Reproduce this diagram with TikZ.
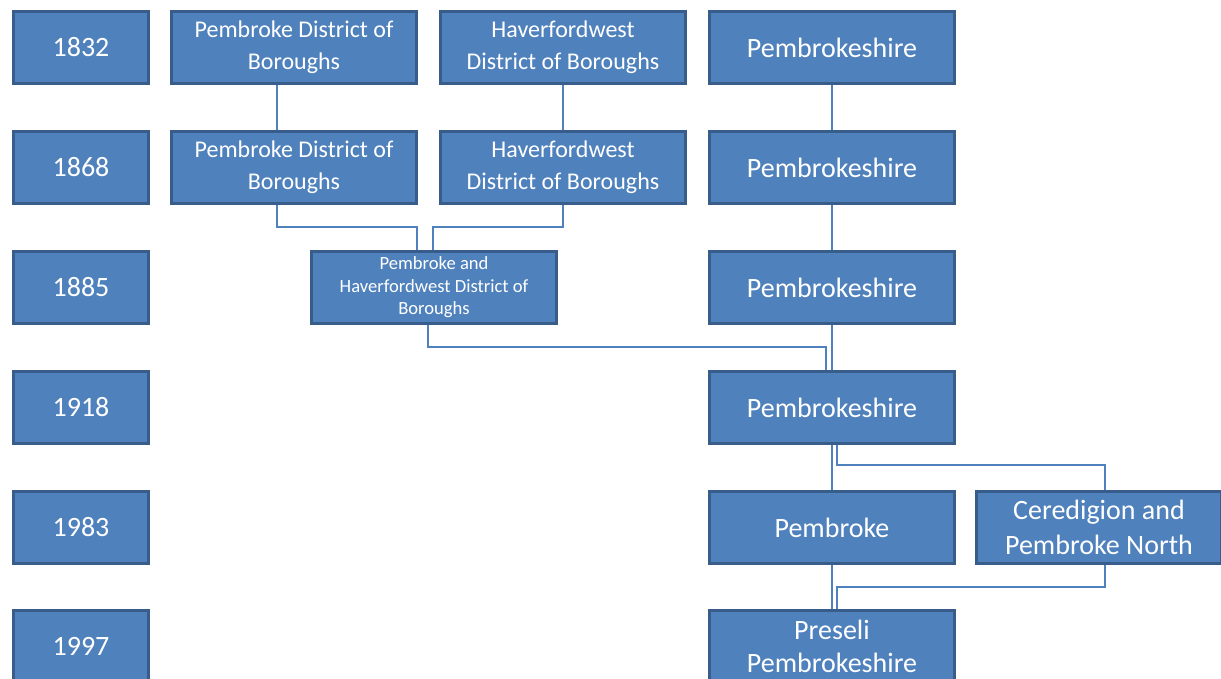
\documentclass[tikz,border=0pt]{standalone}
\usepackage{fontspec}
\setmainfont{Carlito}
\usepackage{tikz}
\usepackage{xcolor}
\definecolor{box-fill}{HTML}{4F81BD}
\definecolor{box-edge}{HTML}{385D8A}
\tikzset{
    year-box/.style = {draw=box-edge, fill=box-fill, line width=1.5pt, text=white, rectangle, inner sep=0pt, minimum width=67.5pt, minimum height=36pt, font=\fontsize{14}{17}\selectfont},
    seat-box/.style = {year-box, minimum width=122.5pt, align=center},
    district-box/.style = {seat-box, font=\fontsize{12}{16}\selectfont},
    merged-box/.style = {seat-box, font=\fontsize{9.3}{11.3}\selectfont},
    link/.style = {draw=box-fill, line width=1pt},
}

\begin{document}
\begin{tikzpicture}[x=0.5pt, y=-0.5pt]
\useasboundingbox (0,0) rectangle (1221,679);
\node [year-box] (y1832) at (81,47.5) {1832};
\node [year-box] (y1868) at (81,167.5) {1868};
\node [year-box] (y1885) at (81,287.5) {1885};
\node [year-box] (y1918) at (81,407.5) {1918};
\node [year-box] (y1983) at (81,527.5) {1983};
\node [year-box] (y1997) at (81,646.5) {1997};
\node [district-box] (pem-dob-1832) at (294,47.5) {Pembroke District of\\Boroughs};
\node [district-box] (hav-dob-1832) at (563,47.5) {Haverfordwest\\District of Boroughs};
\node [seat-box] (pshire-1832) at (832,47.5) {Pembrokeshire};
\node [district-box] (pem-dob-1868) at (294,167.5) {Pembroke District of\\Boroughs};
\node [district-box] (hav-dob-1868) at (563,167.5) {Haverfordwest\\District of Boroughs};
\node [seat-box] (pshire-1868) at (832,167.5) {Pembrokeshire};
\node [merged-box] (pem-hav-1885) at (434,287.5) {Pembroke and\\Haverfordwest District of\\Boroughs};
\node [seat-box] (pshire-1885) at (832,287.5) {Pembrokeshire};
\node [seat-box] (pshire-1918) at (832,407.5) {Pembrokeshire};
\node [seat-box] (pembroke-1983) at (832,527.5) {Pembroke};
\node [seat-box, font=\fontsize{14}{17.5}\selectfont] (cer-pem-1983) at (1099,527.5) {Ceredigion and\\Pembroke North};
\node [seat-box, font=\fontsize{14}{16.5}\selectfont] (preseli-1997) at (832,646.5) {Preseli\\Pembrokeshire};
\draw [link] ([xshift=-8.5pt]pem-dob-1832.south) -- ([xshift=-8.5pt]pem-dob-1868.north);
\draw [link] (hav-dob-1832) -- (hav-dob-1868);
\draw [link] (pshire-1832) -- (pshire-1868);
\draw [link] ([xshift=-8.5pt]pem-dob-1868.south) -- ++(0,22) -| ([xshift=-8.5pt]pem-hav-1885.north);
\draw [link] (hav-dob-1868.south) -- ++(0,22) -| ([xshift=-0.5pt]pem-hav-1885.north);
\draw [link] (pshire-1868) -- (pshire-1885);
\draw [link] ([xshift=-3pt]pem-hav-1885.south) -- ++(0,22) -| ([xshift=-3pt]pshire-1918.north);
\draw [link] (pshire-1885) -- (pshire-1918);
\draw [link] (pshire-1918) -- (pembroke-1983);
\draw [link] ([xshift=2.5pt]pshire-1918.south) -- ++(0,20) -| ([xshift=3pt]cer-pem-1983.north);
\draw [link] (pembroke-1983) -- (preseli-1997);
\draw [link] ([xshift=3pt]cer-pem-1983.south) -- ++(0,22) -| ([xshift=2.5pt]preseli-1997.north);
\end{tikzpicture}
\end{document}
